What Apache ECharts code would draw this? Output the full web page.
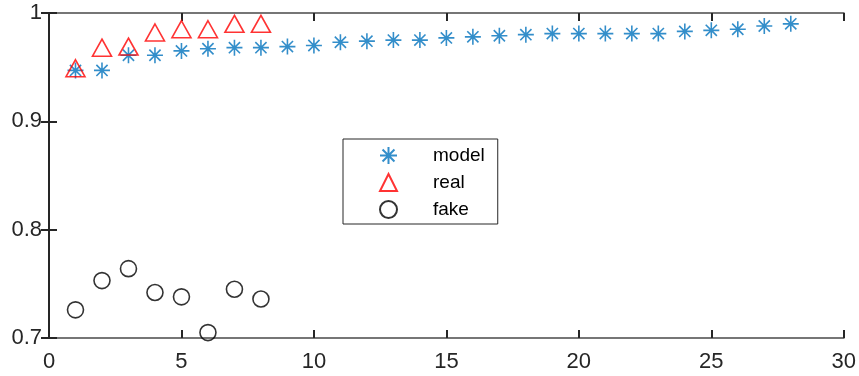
<!DOCTYPE html>
<html>
<head>
<meta charset="utf-8">
<script src="https://cdn.jsdelivr.net/npm/echarts@6/dist/echarts.min.js"></script>
<style>html,body{margin:0;padding:0;background:#fff}#c{width:859px;height:376px}</style>
</head>
<body>
<div id="c"></div>
<script>
const xModel = [1,2,3,4,5,6,7,8,9,10,11,12,13,14,15,16,17,18,19,20,21,22,23,24,25,26,27,28];
const yModel = [0.947,0.947,0.961,0.961,0.965,0.967,0.968,0.968,0.969,0.970,0.973,0.974,0.975,0.975,0.977,0.978,0.979,0.980,0.981,0.981,0.981,0.981,0.981,0.983,0.984,0.985,0.988,0.990];
const xReal = [1,2,3,4,5,6,7,8];
const yReal = [0.949,0.968,0.969,0.982,0.985,0.985,0.990,0.990];
const xFake = [1,2,3,4,5,6,7,8];
const yFake = [0.726,0.753,0.764,0.742,0.738,0.705,0.745,0.736];
const xTicks = [0,5,10,15,20,25,30];
const yTicks = [0.7,0.8,0.9,1];
const seriesNames = ['model','real','fake'];

const zip = (xs, ys) => xs.map((x, i) => [x, ys[i]]);
const FONT = 'Liberation Sans, Arial, Helvetica, sans-serif';
const starPath = 'path://M0,-10L0,10M-10,0L10,0M-7,-7L7,7M-7,7L7,-7';
const hColor = '#767676', vColor = '#262626';

const chart = echarts.init(document.getElementById('c'), null, {renderer: 'canvas'});
const baseAxis = {
  axisTick: {inside: true, length: 8, lineStyle: {color: vColor, width: 2}},
  splitLine: {show: false},
  axisLabel: {color: '#262626', fontFamily: FONT, fontSize: 22}
};
chart.setOption({
  animation: false,
  backgroundColor: '#fff',
  grid: {left: 49, top: 13, right: 12, bottom: 38, containLabel: false},
  xAxis: [
    Object.assign({}, baseAxis, {
      type: 'value', min: xTicks[0], max: xTicks[xTicks.length-1], interval: 5, position: 'bottom',
      axisLine: {lineStyle: {color: hColor, width: 2}},
      axisLabel: Object.assign({}, baseAxis.axisLabel, {margin: 13})
    }),
    Object.assign({}, baseAxis, {
      type: 'value', min: xTicks[0], max: xTicks[xTicks.length-1], interval: 5, position: 'top',
      axisLine: {lineStyle: {color: hColor, width: 2}},
      axisLabel: {show: false}
    })
  ],
  yAxis: [
    Object.assign({}, baseAxis, {
      type: 'value', min: yTicks[0], max: yTicks[yTicks.length-1], interval: 0.1, position: 'left',
      axisLine: {lineStyle: {color: vColor, width: 2}},
      axisLabel: Object.assign({}, baseAxis.axisLabel, {margin: 7, formatter: v => String(+v.toFixed(1))})
    }),
    Object.assign({}, baseAxis, {
      type: 'value', min: yTicks[0], max: yTicks[yTicks.length-1], interval: 0.1, position: 'right',
      axisLine: {lineStyle: {color: vColor, width: 2}},
      axisLabel: {show: false}
    })
  ],
  legend: {
    orient: 'vertical', left: 343, top: 139,
    data: seriesNames,
    backgroundColor: '#fff',
    borderColor: '#262626', borderWidth: 1,
    padding: [7, 13, 5, 36],
    itemWidth: 17, itemHeight: 17, itemGap: 8,
    textStyle: {fontFamily: FONT, fontSize: 19, color: '#000', padding: [0, 0, 0, 31]}
  },
  series: [
    {
      name: seriesNames[0], type: 'scatter', data: zip(xModel, yModel),
      symbol: starPath, symbolSize: 16,
      itemStyle: {color: 'rgba(0,0,0,0)', borderColor: '#0072BD', borderWidth: 1.6}
    },
    {
      name: seriesNames[1], type: 'scatter', data: zip(xReal, yReal),
      symbol: 'triangle', symbolSize: [19, 17],
      itemStyle: {color: 'rgba(0,0,0,0)', borderColor: '#FF0000', borderWidth: 1.6}
    },
    {
      name: seriesNames[2], type: 'scatter', data: zip(xFake, yFake),
      symbol: 'circle', symbolSize: 16,
      itemStyle: {color: 'rgba(0,0,0,0)', borderColor: '#000', borderWidth: 1.6}
    }
  ]
});
</script>
</body>
</html>
